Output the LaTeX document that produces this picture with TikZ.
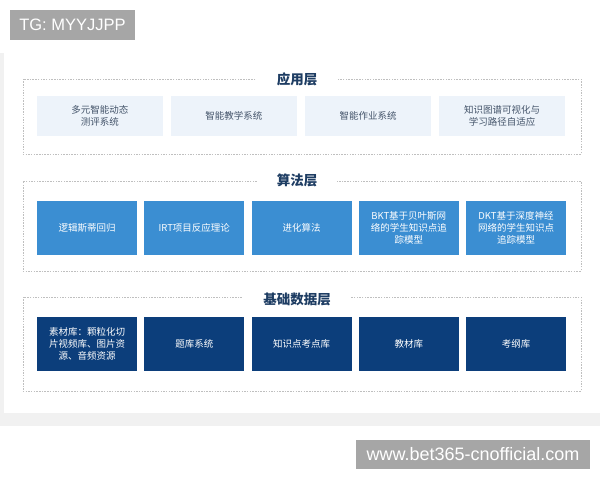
\documentclass[tikz,border=0pt]{standalone}
\usepackage{fontspec}
\setmainfont{Noto Sans CJK SC}
\newfontfamily\wmfont{Liberation Sans}
\usetikzlibrary{positioning}
\definecolor{appfill}{HTML}{EDF3FA}
\definecolor{apptext}{HTML}{44546A}
\definecolor{algfill}{HTML}{3B8ED2}
\definecolor{datfill}{HTML}{0C3E7B}
\definecolor{titlecol}{HTML}{1E3D63}
\definecolor{wmgray}{HTML}{A6A6A6}
\definecolor{cardgray}{HTML}{F1F1F1}
\tikzset{
    layer/.style={draw=black!25, dash pattern=on 1.5pt off 1.2pt, line width=0.6pt,
    minimum width=558pt, inner sep=0pt, outer sep=0pt},
    layertitle/.style={fill=white, text=titlecol, font=\fontsize{13.5}{15}\selectfont\bfseries,
    inner xsep=20pt, inner ysep=1pt},
    cell/.style={inner sep=0pt, outer sep=0pt, align=center, text centered,
    font=\fontsize{9.5}{12}\selectfont},
    appbox/.style={cell, fill=appfill, text=apptext, minimum width=125.6pt, minimum height=40pt},
    algbox/.style={cell, fill=algfill, text=white, minimum width=100pt, minimum height=53.5pt},
    datbox/.style={cell, fill=datfill, text=white, minimum width=100pt, minimum height=54.5pt},
    wmbox/.style={fill=wmgray, text=white, inner sep=0pt}
}
\begin{document}
\begin{tikzpicture}[x=1pt,y=-1pt,node distance=8.5pt]
    \useasboundingbox (0,0) rectangle (600,480);
    \fill[cardgray] (0,53) rectangle (600,426);
    \fill[white] (4,53) rectangle (600,413);
    % watermarks
    \node (tg) [wmbox,minimum width=125pt,minimum height=30pt,
      font=\wmfont\fontsize{16.5}{18}\selectfont] at (72.5,25) {TG: MYYJJPP};
    \node (web) [wmbox,minimum width=234pt,minimum height=29pt,
      font=\wmfont\fontsize{18}{20}\selectfont] at (473,454.5) {www.bet365-cnofficial.com};
    % application layer
    \node (L1) [layer,minimum height=75pt] at (301.85,116.5) {};
    \node (T1) [layertitle] at (297,79.5) {应用层};
    \node (A1) [appbox] at (99.8,116) {多元智能动态\\测评系统};
    \node (A2) [appbox,right=of A1] {智能教学系统};
    \node (A3) [appbox,right=of A2] {智能作业系统};
    \node (A4) [appbox,right=of A3] {知识图谱可视化与\\学习路径自适应};
    % algorithm layer
    \node (L2) [layer,minimum height=90pt] at (301.85,226) {};
    \node (T2) [layertitle] at (297,180.5) {算法层};
    \node (B1) [algbox] at (87,227.75) {逻辑斯蒂回归};
    \node (B2) [algbox,right=7.25pt of B1] {IRT项目反应理论};
    \node (B3) [algbox,right=7.25pt of B2] {进化算法};
    \node (B4) [algbox,right=7.25pt of B3] {BKT基于贝叶斯网\\络的学生知识点追\\踪模型};
    \node (B5) [algbox,right=7.25pt of B4] {DKT基于深度神经\\网络的学生知识点\\追踪模型};
    % data layer
    \node (L3) [layer,minimum height=94pt] at (301.85,344) {};
    \node (T3) [layertitle] at (297,299) {基础数据层};
    \node (C1) [datbox] at (87,343.75) {素材库：颗粒化切\\片视频库、图片资\\源、音频资源};
    \node (C2) [datbox,right=7.25pt of C1] {题库系统};
    \node (C3) [datbox,right=7.25pt of C2] {知识点考点库};
    \node (C4) [datbox,right=7.25pt of C3] {教材库};
    \node (C5) [datbox,right=7.25pt of C4] {考纲库};
\end{tikzpicture}
\end{document}
